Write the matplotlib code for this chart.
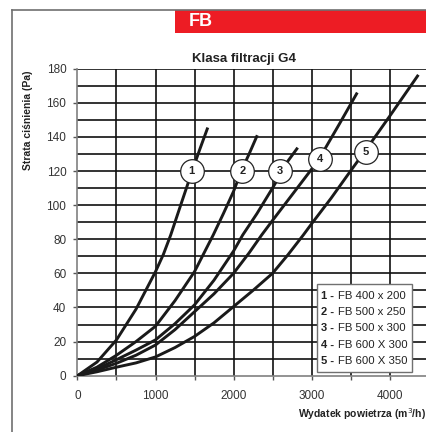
import matplotlib
matplotlib.use("Agg")
import matplotlib.pyplot as plt
from matplotlib.patches import Rectangle

plt.rcParams['font.family'] = ['Liberation Sans', 'DejaVu Sans']

# ---- data ----
c1_q = [0, 250, 500, 750, 1000, 1100, 1195, 1330, 1470, 1570, 1670]
c1_p = [0, 8, 21, 39, 61, 71, 82.5, 101, 120, 133, 145.5]
c2_q = [0, 250, 500, 750, 1000, 1250, 1500, 1740, 1870, 2000, 2105, 2200, 2305]
c2_p = [0, 5, 12, 20, 29, 44, 61, 82.5, 95, 108, 120.5, 130, 141]
c3_q = [0, 250, 500, 750, 1000, 1250, 1500, 1750, 2000, 2118, 2300, 2500, 2596, 2700, 2823]
c3_p = [0, 4, 9.4, 15, 21, 30.5, 41.5, 56, 73, 82.5, 95, 110, 117.5, 126, 133.7]
c4_q = [0, 250, 500, 750, 1000, 1250, 1500, 1750, 2000, 2200, 2361, 2500, 2750, 3000, 3109, 3350, 3587]
c4_p = [0, 3.3, 7.3, 12, 18, 27, 37.5, 48, 60, 72, 82.5, 91, 106, 121, 128, 147, 166]
c5_q = [0, 250, 500, 750, 1000, 1250, 1500, 1750, 2000, 2250, 2500, 2700, 2895, 3000, 3250, 3500, 3699, 4000, 4370]
c5_p = [0, 2.3, 5, 7.5, 11, 16.5, 23, 31, 40.5, 50, 60, 71, 82.5, 89, 104, 120, 132.5, 152, 176.4]

marker_ids = ['1', '2', '3', '4', '5']
marker_q = [1464, 2113, 2596, 3109, 3699]
marker_p = [120.2, 119.8, 119.8, 127, 131.4]

legend_nums = ['1 -', '2 -', '3 -', '4 -', '5 -']
legend_names = ['FB 400 x 200', 'FB 500 x 250', 'FB 500 x 300',
                'FB 600 X 300', 'FB 600 X 350']

x_ticks = [0, 1000, 2000, 3000, 4000]
y_ticks = [0, 20, 40, 60, 80, 100, 120, 140, 160, 180]

title = 'Klasa filtracji G4'
ylabel = 'Strata ciśnienia (Pa)'
xlabel = 'Wydatek powietrza (m$^3$/h)'
badge = 'FB'

W, H = 427, 432
fig = plt.figure(figsize=(W / 100, H / 100), dpi=100)

def fx(px):
    return px / W

def fy(py):
    return 1 - py / H

# outer frame (gray)
fig.add_artist(plt.Line2D([fx(12), fx(12)], [fy(9.7), fy(440)], color='#707070', lw=1.2))
fig.add_artist(plt.Line2D([fx(12), fx(440)], [fy(9.7), fy(9.7)], color='#707070', lw=1.2))
# red badge
fig.add_artist(Rectangle((fx(175), fy(33)), fx(260), fy(9.7) - fy(33),
                         facecolor='#ED1C24', edgecolor='none', transform=fig.transFigure))
fig.text(fx(189), fy(21.5), badge, color='white', fontsize=13, fontweight='bold',
         ha='left', va='center')

ax = fig.add_axes([fx(77.5), fy(375.7), (351) / W, (375.7 - 68.7) / H])
ax.set_xlim(0, 4500)
ax.set_ylim(0, 180)

for v in range(10, 181, 10):
    ax.axhline(v, color='#111111', lw=1.2, zorder=1)
for v in range(500, 4501, 500):
    ax.axvline(v, color='#111111', lw=1.2, zorder=1)

for q, p in [(c1_q, c1_p), (c2_q, c2_p), (c3_q, c3_p), (c4_q, c4_p), (c5_q, c5_p)]:
    ax.plot(q, p, color='#1a1a1a', lw=2.1, solid_capstyle='butt', solid_joinstyle='round', zorder=3)

for lab, q, p in zip(marker_ids, marker_q, marker_p):
    ax.plot([q], [p], marker='o', markersize=17, markerfacecolor='white',
            markeredgecolor='#222222', markeredgewidth=0.9, zorder=5)
    ax.text(q, p, lab, ha='center', va='center', fontsize=8, fontweight='bold',
            color='#222222', zorder=6)

for side in ['top', 'right']:
    ax.spines[side].set_visible(False)
ax.spines['left'].set_color('#808080')
ax.spines['bottom'].set_color('#808080')
ax.spines['left'].set_linewidth(1.2)
ax.spines['bottom'].set_linewidth(1.2)

ax.set_xticks(x_ticks)
ax.set_xticks(range(0, 4501, 500), minor=True)
ax.set_yticks(y_ticks)
ax.tick_params(axis='both', which='major', labelsize=8.5, labelcolor='#333333',
               length=3, width=1.0, color='#555555')
ax.tick_params(axis='x', which='minor', length=3, width=1.0, color='#555555')
ax.tick_params(axis='x', pad=7)
ax.tick_params(axis='y', pad=5)

fig.text(fx(244.5), fy(59), title, ha='center', va='center', fontsize=9.5, fontweight='bold',
         color='#222222')
fig.text(fx(28), fy(120), ylabel, ha='center', va='center', rotation=90, fontsize=7.5,
         fontweight='bold', color='#222222')
fig.text(fx(298), fy(414), xlabel, ha='left', va='center', fontsize=7.5,
         fontweight='bold', color='#222222')

# legend box
fig.add_artist(Rectangle((fx(317.3), fy(371.7)), fx(412.3) - fx(317.3), fy(284.3) - fy(371.7),
                         facecolor='white', edgecolor='#707070', lw=1.0,
                         transform=fig.transFigure, zorder=10))
ys = [296, 312.3, 328.3, 345, 360.7]
for num, name, yy in zip(legend_nums, legend_names, ys):
    fig.text(fx(320.7), fy(yy), num, ha='left', va='center', fontsize=8, fontweight='bold',
             color='#222222', zorder=11)
    fig.text(fx(337.7), fy(yy), name, ha='left', va='center', fontsize=8.2,
             color='#222222', zorder=11)

fig.savefig('out.png', dpi=100)
